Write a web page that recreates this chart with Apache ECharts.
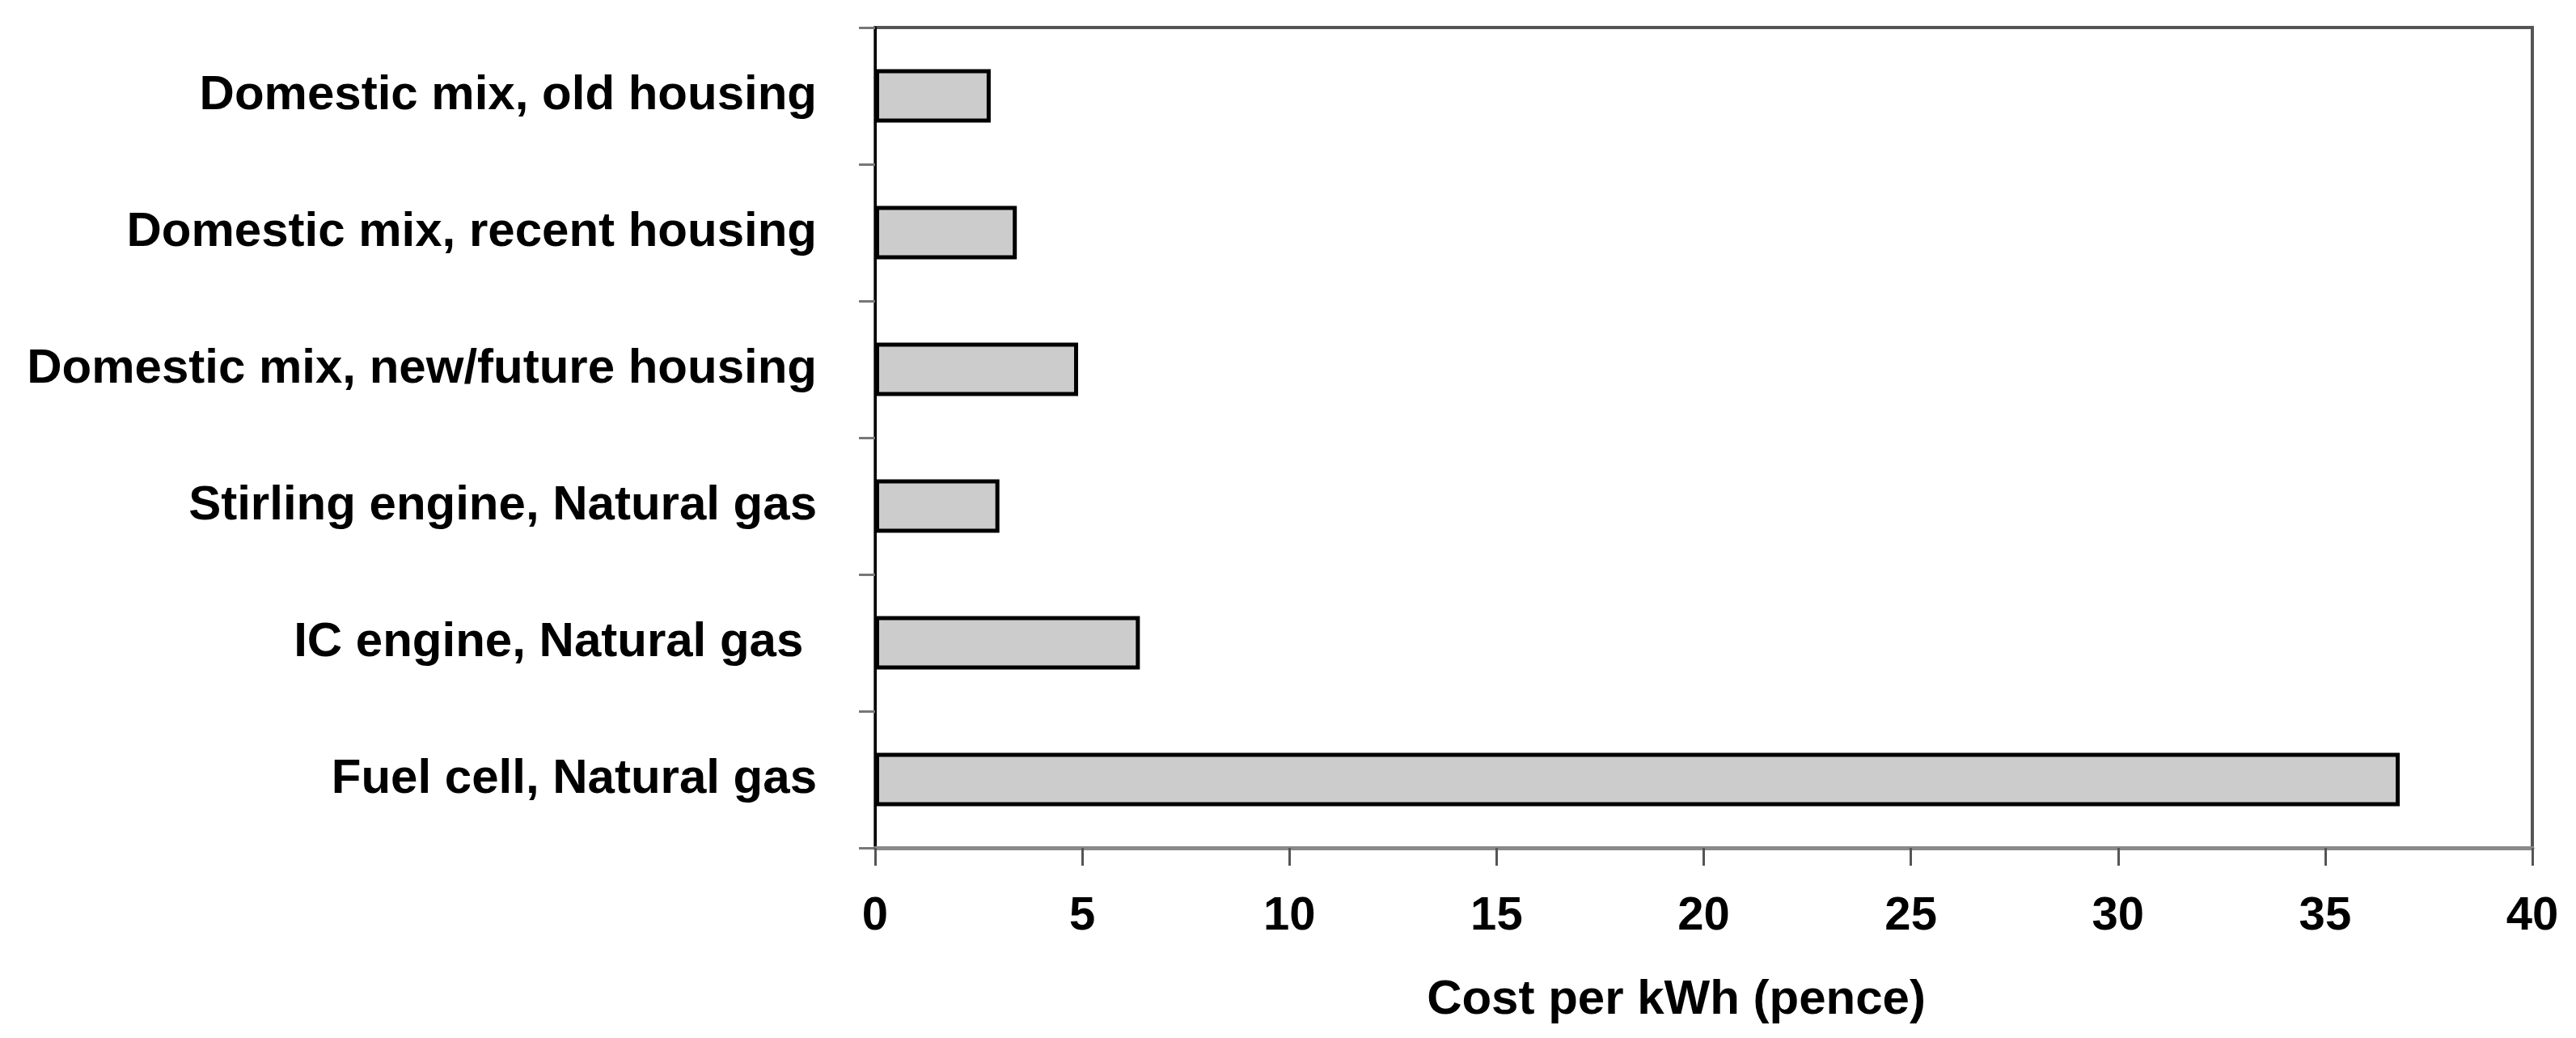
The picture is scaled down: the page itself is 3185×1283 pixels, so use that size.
<!DOCTYPE html>
<html>
<head>
<meta charset="utf-8">
<script src="https://cdn.jsdelivr.net/npm/echarts@6/dist/echarts.min.js"></script>
<style>
  html, body { margin: 0; padding: 0; background: #ffffff; }
  #chart { width: 3185px; height: 1283px; }
</style>
</head>
<body>
<div id="chart"></div>
<script>
// Data (top to bottom as shown)
const categories = [
  "Domestic mix, old housing",
  "Domestic mix, recent housing",
  "Domestic mix, new/future housing",
  "Stirling engine, Natural gas",
  "IC engine, Natural gas ",
  "Fuel cell, Natural gas"
];
const costValues = [2.79, 3.42, 4.9, 3.0, 6.39, 36.8];
const xAxisName = "Cost per kWh (pence)";
const xMin = 0, xMax = 40, xInterval = 5;

const FONT = '"Liberation Sans", Arial, sans-serif';
const chart = echarts.init(document.getElementById('chart'));
chart.setOption({
  backgroundColor: '#ffffff',
  animation: false,
  grid: {
    left: 1082, right: 54, top: 34, bottom: 235,
    show: true, borderColor: '#555555', borderWidth: 4, backgroundColor: '#ffffff'
  },
  xAxis: {
    type: 'value',
    min: xMin, max: xMax, interval: xInterval,
    name: xAxisName,
    nameLocation: 'middle',
    nameGap: 158,
    nameTextStyle: { fontFamily: FONT, fontWeight: 'bold', fontSize: 60, color: '#000000', padding: [0, 68, 0, 0] },
    axisLine: { show: true, lineStyle: { color: '#8a8a8a', width: 5 } },
    axisTick: { show: true, length: 22, lineStyle: { color: '#555555', width: 3 } },
    axisLabel: { margin: 56, fontFamily: FONT, fontWeight: 'bold', fontSize: 58, color: '#000000' },
    splitLine: { show: false }
  },
  yAxis: {
    type: 'category',
    data: categories,
    inverse: true,
    axisLine: { show: true, lineStyle: { color: '#000000', width: 3 } },
    axisTick: { show: true, length: 20, lineStyle: { color: '#777777', width: 3 } },
    axisLabel: { margin: 72, fontFamily: FONT, fontWeight: 'bold', fontSize: 60, color: '#000000' },
    splitLine: { show: false }
  },
  series: [{
    type: 'bar',
    data: costValues,
    barWidth: 66,
    itemStyle: { color: '#cccccc', borderColor: '#000000', borderWidth: 5 },
    emphasis: { disabled: true }
  }]
});
</script>
</body>
</html>
